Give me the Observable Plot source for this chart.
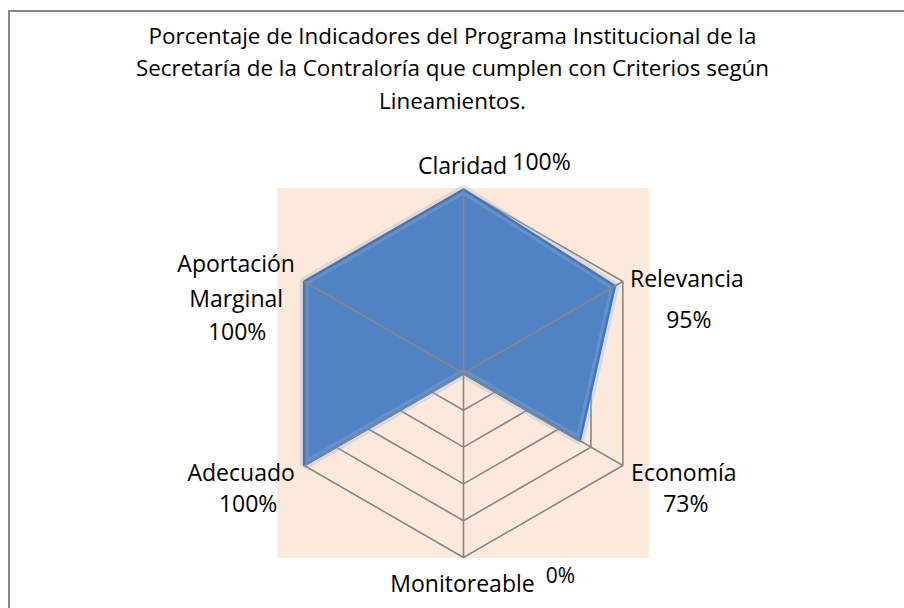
<!DOCTYPE html>
<html>
<head>
<meta charset="utf-8">
<script src="https://cdn.jsdelivr.net/npm/d3@7"></script>
<script src="https://cdn.jsdelivr.net/npm/@observablehq/plot@0.6"></script>
<style>
  html, body { margin: 0; padding: 0; background: #fff; }
  #wrap { position: relative; width: 904px; height: 608px; overflow: hidden; }
  #frame { position: absolute; left: 8px; top: 10px; width: 1000px; height: 1000px;
           border-left: 2px solid #878787; border-top: 2px solid #878787; pointer-events: none; }
  #chart { position: absolute; left: 0; top: 0; }
</style>
</head>
<body>
<div id="wrap"><div id="chart"></div><div id="frame"></div></div>
<script>
const categories = ["Claridad", "Relevancia", "Economía", "Monitoreable", "Adecuado", "Aportación\nMarginal"];
const values = [100, 95, 73, 0, 100, 100];
const ringLevels = [20, 40, 60, 80, 100];
const titleLines = [
  "Porcentaje de Indicadores del Programa Institucional de la",
  "Secretaría de la Contraloría que cumplen con Criterios según",
  "Lineamientos."
];

// layout (pixels)
const W = 904, H = 608, cx = 463, cy = 373, R = 184, maxV = 100;
const n = categories.length;
const ang = i => i * 2 * Math.PI / n;
const px = (i, v) => (v / maxV) * Math.sin(ang(i));
const py = (i, v) => (v / maxV) * Math.cos(ang(i));

const rings = ringLevels.flatMap(level => d3.range(n).map(i => ({level, x: px(i, level), y: py(i, level)})));
const spokes = categories.map((c, i) => ({c, x: px(i, maxV), y: py(i, maxV)}));
const poly = categories.map((c, i) => ({c, v: values[i], x: px(i, values[i]), y: py(i, values[i])}));

// label offsets (style)
const labelStyle = [
  {name: [-1, -27], value: [78, -27]},
  {name: [64, -5.4], value: [66, 39.6]},
  {name: [61, 4.6], value: [63, 39.6]},
  {name: [-1, 23.5], value: [97, 19]},
  {name: [-63, 4.6], value: [-56, 39.6]},
  {name: [-68, -2.9], value: [-67, 51.6]}
];

const font = "'Open Sans', Lato, sans-serif";
const fs = 23;
const labelMarks = categories.flatMap((c, i) => {
  const s = labelStyle[i];
  const d = [{x: px(i, maxV), y: py(i, maxV)}];
  return [
    Plot.text(d, {x: "x", y: "y", text: () => c, dx: s.name[0], dy: s.name[1], fontSize: fs, fill: "#000", lineHeight: 1.52, textAnchor: "middle"}),
    Plot.text(d, {x: "x", y: "y", text: () => values[i] + "%", dx: s.value[0], dy: s.value[1], fontSize: i === 3 ? 21 : fs, fill: "#000", textAnchor: "middle"})
  ];
});

const chart = Plot.plot({
  width: W, height: H,
  margin: 0,
  style: {fontFamily: font, background: "transparent", overflow: "visible"},
  x: {domain: [-cx / R, (W - cx) / R], axis: null},
  y: {domain: [-(H - cy) / R, cy / R], axis: null},
  marks: [
    Plot.rect([{}], {x1: -1.01, x2: 1.01, y1: -1.005, y2: 1.005, fill: "#FDE9DB"}),
    Plot.line(rings, {x: "x", y: "y", z: "level", curve: "linear-closed", stroke: "#878787", strokeWidth: 1.6}),
    Plot.line(poly, {x: "x", y: "y", curve: "linear-closed", fill: "#5183C4", stroke: "#2F5A92", strokeWidth: 2.5, strokeLinejoin: "miter"}),
    Plot.line(poly, {x: "x", y: "y", curve: "linear-closed", fill: "none", stroke: "#8DB3E6", strokeWidth: 9, strokeOpacity: 0.3, strokeLinejoin: "miter"}),
    Plot.link(spokes, {x1: 0, y1: 0, x2: "x", y2: "y", stroke: "#878787", strokeWidth: 1.6}),
    Plot.text([titleLines.join("\n")], {frameAnchor: "top", dy: 20, fontSize: 22.4, lineHeight: 1.45, fill: "#000", text: d => d}),
    ...labelMarks
  ]
});
document.getElementById("chart").appendChild(chart);
</script>
</body>
</html>
